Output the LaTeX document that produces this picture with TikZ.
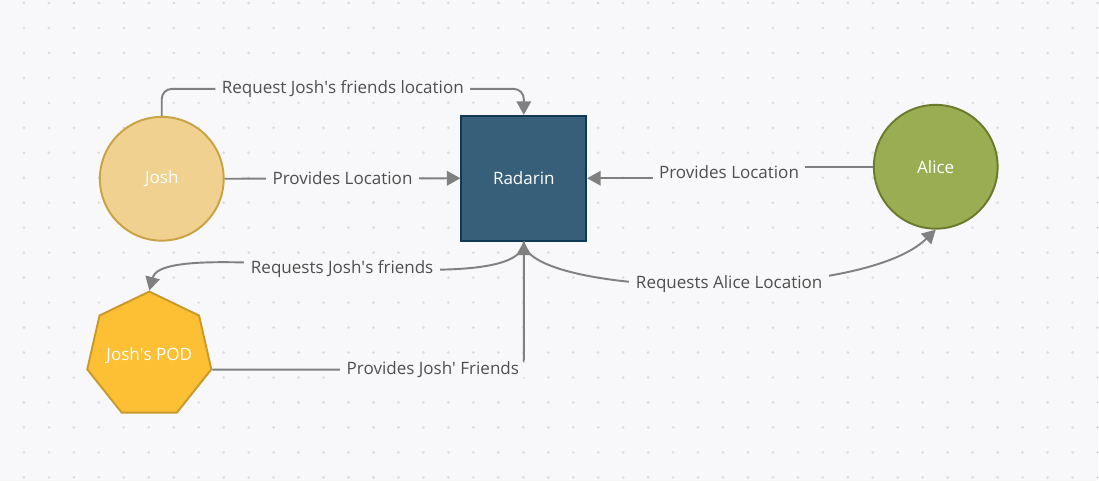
\documentclass[tikz,border=0pt]{standalone}
\usepackage{fontspec}
\setmainfont{Open Sans}
\usepackage{tikz}
\usetikzlibrary{arrows.meta, shapes.geometric}
\definecolor{pagebg}{HTML}{F8F8FA}
\definecolor{griddot}{HTML}{DCDCE1}
\definecolor{edgegray}{HTML}{808080}
\definecolor{labeltext}{HTML}{4F4F4F}
\definecolor{joshfill}{HTML}{F0D18F}
\definecolor{joshline}{HTML}{C9A243}
\definecolor{radfill}{HTML}{375F7A}
\definecolor{radline}{HTML}{0E3A56}
\definecolor{alicefill}{HTML}{9BAD52}
\definecolor{aliceline}{HTML}{6B7B2B}
\definecolor{podfill}{HTML}{FDBF33}
\definecolor{podline}{HTML}{C99A2B}
\newcommand{\sq}{\textquotesingle}

\begin{document}
\begin{tikzpicture}[x=0.02cm, y=-0.02cm,
    actor/.style={circle, draw, line width=1.1pt, minimum size=2.48cm,
                  text=white, font=\fontsize{9.7}{11}\selectfont},
    service/.style={rectangle, draw, line width=1.1pt, minimum size=2.5cm,
                  text=white, font=\fontsize{9.7}{11}\selectfont},
    store/.style={regular polygon, regular polygon sides=7, draw, line width=1.1pt,
                  minimum size=2.55cm, inner sep=0pt,
                  text=white, font=\fontsize{9.7}{11}\selectfont},
    arr/.style={-{Triangle[length=0.27cm, width=0.29cm]}, draw=edgegray,
                line width=1.1pt},
    lbl/.style={fill=pagebg, text=labeltext, inner xsep=0.13cm, inner ysep=2pt,
                font=\fontsize{9.7}{11}\selectfont}
  ]
    % page and dot grid
    \fill[pagebg] (0,0) rectangle (1099,482);
    \foreach \i in {0,...,43}
      \foreach \j in {0,...,19}
        \fill[griddot] (24+25*\i, 3+25*\j) circle (0.03cm);

    \node[actor, fill=joshfill, draw=joshline]    (josh)    at (162,179)     {Josh};
    \node[service, fill=radfill, draw=radline]    (radarin) at (524.5,178.5) {Radarin};
    \node[actor, fill=alicefill, draw=aliceline]  (alice)   at (937,167)     {Alice};
    \node[store, fill=podfill, draw=podline]      (pod)     at (149.5,355.7)
      {\makebox[0pt]{Josh\sq s POD}};

    \draw[arr, rounded corners=0.2cm] (josh.north) -- ++(0,-27) coordinate (jtop)
      -- node[lbl]{Request Josh\sq s friends location} (jtop -| radarin.north)
      -- (radarin.north);
    \draw[arr] (josh.east) -- node[lbl]{Provides Location} (radarin.east -| radarin.west);
    \draw[arr] (alice.west) -- ++(-144,0) |- node[lbl, pos=0.25]{Provides Location} (radarin.east);
    \draw[arr] (radarin.south) .. controls +(0,65) and +(15,-58) ..
      node[lbl]{Requests Josh\sq s friends} (pod.north);
    \draw[arr] (radarin.south) .. controls +(0,55) and +(-77,75) ..
      node[lbl, pos=0.55]{Requests Alice Location} (alice.south);
    \draw[arr, rounded corners=0.2cm] (pod.corner 6)
      -| node[lbl, pos=0.354]{Provides Josh\sq~Friends} (radarin.south);
  \end{tikzpicture}
\end{document}
